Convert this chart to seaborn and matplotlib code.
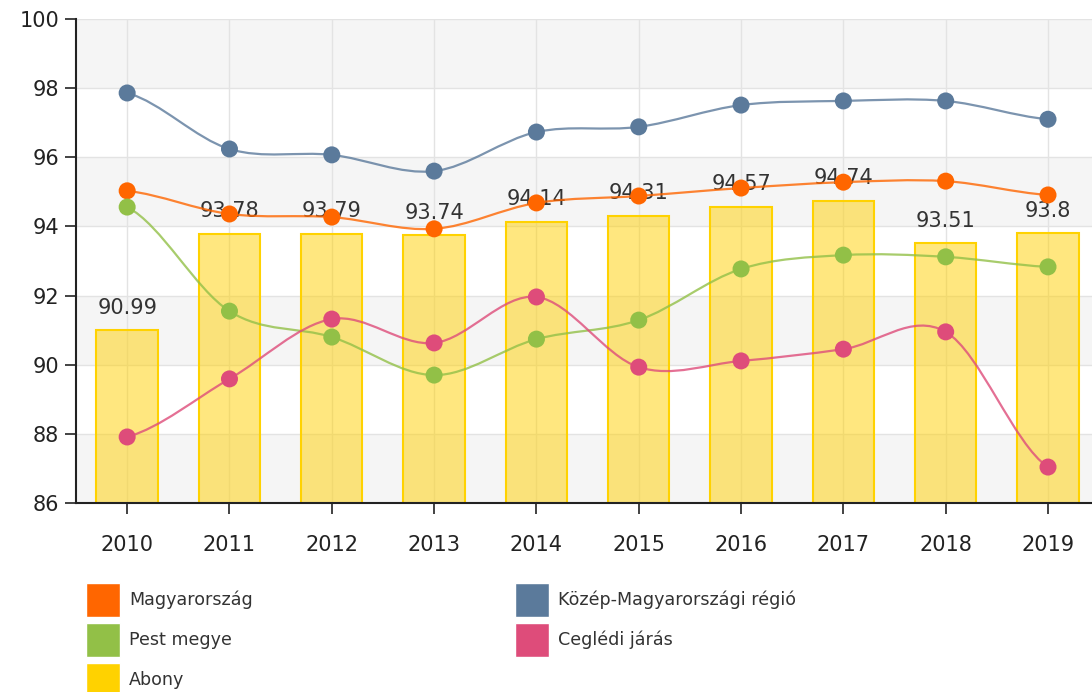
import numpy as np
import pandas as pd
import matplotlib
matplotlib.use("Agg")
import matplotlib.pyplot as plt
from matplotlib.path import Path
from matplotlib.patches import PathPatch, Patch
import seaborn as sns

# adatok
years = ["2010", "2011", "2012", "2013", "2014", "2015", "2016", "2017", "2018", "2019"]
abony = [90.99, 93.78, 93.79, 93.74, 94.14, 94.31, 94.57, 94.74, 93.51, 93.8]
magyarorszag = [95.03, 94.36, 94.27, 93.93, 94.68, 94.88, 95.11, 95.28, 95.31, 94.91]
kozep = [97.86, 96.24, 96.07, 95.6, 96.73, 96.88, 97.51, 97.63, 97.63, 97.1]
pest = [94.56, 91.55, 90.8, 89.7, 90.74, 91.29, 92.77, 93.17, 93.12, 92.83]
cegled = [87.91, 89.59, 91.32, 90.63, 91.96, 89.93, 90.11, 90.45, 90.95, 87.04]

c_orange = "#ff6600"
c_blue = "#5b7a9b"
c_green = "#92c047"
c_pink = "#de4c7a"
c_gold = "#ffd200"

sns.set_style("white")
plt.rcParams["font.family"] = ["DejaVu Sans"]

fig = plt.figure(figsize=(10.92, 6.92), dpi=100)
ax = fig.add_axes([76 / 1092, 1 - 503 / 692, 1 - 76 / 1092, 484 / 692])

df = pd.DataFrame({"ev": years, "abony": abony})
sns.barplot(data=df, x="ev", y="abony", ax=ax, width=0.6, zorder=1)
for p in ax.containers[0]:
    p.set_facecolor((1.0, 0.82, 0.0, 0.5))
    p.set_edgecolor(c_gold)
    p.set_linewidth(1.5)
    p.set_zorder(1)

# sávos háttér
for lo in (86, 90, 94, 98):
    ax.axhspan(lo, lo + 2, color="#f5f5f5", zorder=0, lw=0)

for i, v in enumerate(abony):
    ax.annotate(f"{v:g}", (i, v), xytext=(0, 12), textcoords="offset points",
                ha="center", va="baseline", fontsize=15, color="#333333", zorder=2)


def smooth_line(ax, ys, color):
    # Catmull-Rom görbe a pontokon át
    n = len(ys)
    xs = np.arange(n)
    verts = [(xs[0], ys[0])]
    codes = [Path.MOVETO]
    for i in range(n - 1):
        y0 = ys[i - 1] if i > 0 else ys[i]
        y3 = ys[i + 2] if i + 2 < n else ys[i + 1]
        m1 = (ys[i + 1] - y0) / 2
        m2 = (y3 - ys[i]) / 2
        verts += [(xs[i] + 1 / 3, ys[i] + m1 / 3),
                  (xs[i + 1] - 1 / 3, ys[i + 1] - m2 / 3),
                  (xs[i + 1], ys[i + 1])]
        codes += [Path.CURVE4] * 3
    ax.add_patch(PathPatch(Path(verts, codes), fill=False, edgecolor=color,
                           lw=1.6, alpha=0.8, zorder=3))


series = [(magyarorszag, c_orange), (kozep, c_blue), (pest, c_green), (cegled, c_pink)]
for ys, col in series:
    smooth_line(ax, ys, col)
    sns.scatterplot(x=np.arange(len(ys)), y=ys, ax=ax, color=col, s=150,
                    edgecolor="none", zorder=4, legend=False)

ax.set_xlim(-0.5, 9.43)
ax.set_ylim(86, 100)
ax.set_yticks(range(86, 101, 2))
ax.set_xticks(range(len(years)))
ax.set_xticklabels(years)
ax.set_xlabel("")
ax.set_ylabel("")
ax.grid(True, color="#e3e3e3", lw=1)
ax.set_axisbelow(True)
for s in ("top", "right"):
    ax.spines[s].set_visible(False)
for s in ("left", "bottom"):
    ax.spines[s].set_color("#222222")
    ax.spines[s].set_linewidth(1.5)
    ax.spines[s].set_zorder(5)
ax.tick_params(axis="y", length=8, width=1.2, pad=4, labelsize=15, colors="#222222", left=True)
ax.tick_params(axis="x", length=8, width=1.2, pad=15, labelsize=15, colors="#222222", bottom=True)

# jelmagyarázat
leg_kw = dict(loc="upper left", frameon=False, fontsize=12.6, handlelength=1.94,
              handleheight=2.61, handletextpad=0.51, labelspacing=0.34,
              borderpad=0, borderaxespad=0, labelcolor="#333333")
h1 = [Patch(facecolor=c_orange, label="Magyarország"),
      Patch(facecolor=c_green, label="Pest megye"),
      Patch(facecolor=c_gold, label="Abony")]
h2 = [Patch(facecolor=c_blue, label="Közép-Magyarországi régió"),
      Patch(facecolor=c_pink, label="Ceglédi járás")]
fig.legend(handles=h1, bbox_to_anchor=(86 / 1092, 1 - 583 / 692), **leg_kw)
fig.legend(handles=h2, bbox_to_anchor=(515 / 1092, 1 - 583 / 692), **leg_kw)

fig.savefig("out.png", dpi=100)
